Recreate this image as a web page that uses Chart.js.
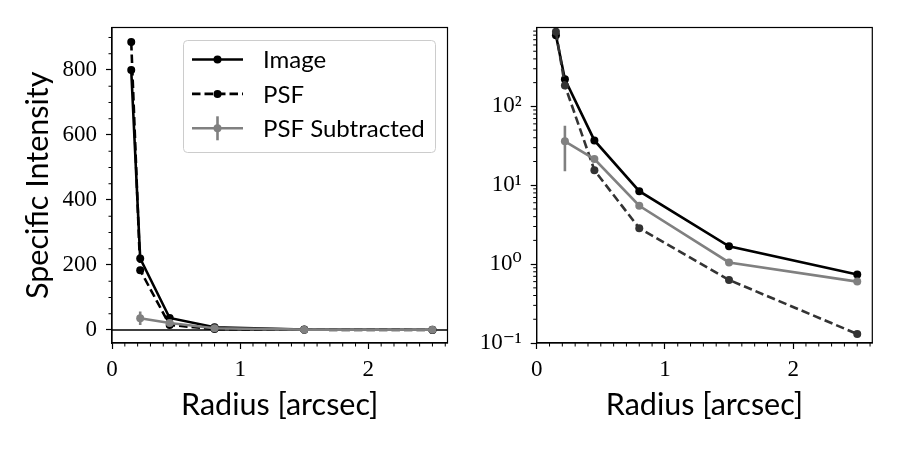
<!DOCTYPE html>
<html>
<head>
<meta charset="utf-8">
<script src="https://cdn.jsdelivr.net/npm/chart.js@4"></script>
<style>
body { margin: 0; background: #fff; }
#wrap { position: relative; width: 900px; height: 450px; }
#wrap canvas { position: absolute; top: 0; }
</style>
</head>
<body>
<div id="wrap">
  <canvas id="linPlot" width="480" height="450" style="left:0"></canvas>
  <canvas id="logPlot" width="420" height="450" style="left:480px"></canvas>
</div>
<script>
// radial profiles
var radius = [0.15, 0.22, 0.45, 0.8, 1.5, 2.5];
var imageProfile = [800, 220, 37, 8.4, 1.68, 0.74];
var psfProfile = [886, 184, 15.5, 2.85, 0.63, 0.13];
var subProfile = [null, 36, 21.5, 5.5, 1.05, 0.6];
var subError = [null, 21, 1.5, 0.4, 0.08, 0.05];
var seriesNames = ['Image', 'PSF', 'PSF Subtracted'];

var xTickValues = [0, 1, 2];
var linTickValues = [0, 200, 400, 600, 800];
var logTickValues = [0.1, 1, 10, 100];
var logTickLabels = ['10⁻¹', '10⁰', '10¹', '10²'];

var serifFont = { family: "'Liberation Serif', 'DejaVu Serif', serif", size: 23 };
var sansFont = { family: "Lato, 'Noto Sans', sans-serif", size: 30.5 };
var LW = 2.6;

function points(ys) {
  return radius.map(function (r, i) { return { x: r, y: ys[i] }; });
}

function fixedTicks(values) {
  return function (scale) {
    scale.ticks = values.map(function (v) { return { value: v }; });
  };
}

function makeDatasets(psfColor) {
  return [{
    label: seriesNames[0], data: points(imageProfile),
    borderColor: '#000', backgroundColor: '#000', borderWidth: LW,
    pointRadius: 4, pointBorderWidth: 0, order: 2
  }, {
    label: seriesNames[1], data: points(psfProfile),
    borderColor: psfColor, backgroundColor: psfColor, borderWidth: LW, borderDash: [8.5, 4],
    pointRadius: 4, pointBorderWidth: 0, order: 1
  }, {
    label: seriesNames[2], data: points(subProfile), errors: subError,
    borderColor: '#808080', backgroundColor: '#808080', borderWidth: LW,
    pointRadius: 4, pointBorderWidth: 0, order: 0
  }];
}

// box round the plot area
var frame = {
  id: 'frame',
  afterDraw: function (chart) {
    var a = chart.chartArea, ctx = chart.ctx;
    ctx.save();
    ctx.strokeStyle = '#000';
    ctx.lineWidth = 1.2;
    ctx.strokeRect(a.left, a.top, a.right - a.left, a.bottom - a.top);
    ctx.restore();
  }
};

var minorTicks = {
  id: 'minorTicks',
  afterDraw: function (chart, args, opts) {
    var ctx = chart.ctx, a = chart.chartArea;
    var xs = chart.scales.x, ys = chart.scales.y;
    ctx.save();
    ctx.strokeStyle = '#000';
    ctx.lineWidth = 1;
    ctx.beginPath();
    (opts.x || []).forEach(function (v) {
      var px = xs.getPixelForValue(v);
      ctx.moveTo(px, a.bottom); ctx.lineTo(px, a.bottom + 3.5);
    });
    (opts.y || []).forEach(function (v) {
      var py = ys.getPixelForValue(v);
      if (py < a.top - 0.5 || py > a.bottom + 0.5) return;
      ctx.moveTo(a.left, py); ctx.lineTo(a.left - 3.5, py);
    });
    ctx.stroke();
    ctx.restore();
  }
};

var zeroLine = {
  id: 'zeroLine',
  beforeDatasetsDraw: function (chart, args, opts) {
    if (!opts.show) return;
    var a = chart.chartArea, ctx = chart.ctx;
    var py = chart.scales.y.getPixelForValue(0);
    ctx.save();
    ctx.strokeStyle = '#000';
    ctx.lineWidth = 1.6;
    ctx.beginPath();
    ctx.moveTo(a.left, py); ctx.lineTo(a.right, py);
    ctx.stroke();
    ctx.restore();
  }
};

var errorBars = {
  id: 'errorBars',
  beforeDatasetsDraw: function (chart) {
    var ctx = chart.ctx, ys = chart.scales.y, xs = chart.scales.x;
    chart.data.datasets.forEach(function (ds) {
      if (!ds.errors) return;
      ctx.save();
      ctx.strokeStyle = ds.borderColor;
      ctx.lineWidth = LW;
      ctx.beginPath();
      ds.data.forEach(function (p, i) {
        var e = ds.errors[i];
        if (p.y == null || e == null) return;
        var lo = p.y - e;
        if (lo <= 0 && ys.type === 'logarithmic') lo = ys.min;
        var px = xs.getPixelForValue(p.x);
        ctx.moveTo(px, ys.getPixelForValue(lo));
        ctx.lineTo(px, ys.getPixelForValue(p.y + e));
      });
      ctx.stroke();
      ctx.restore();
    });
  }
};

var inLegend = {
  id: 'inLegend',
  afterDraw: function (chart, args, opts) {
    if (!opts.show) return;
    var ctx = chart.ctx, a = chart.chartArea;
    var w = 252, h = 112;
    var left = a.right - 12.5 - w, top = a.top + 12.5;
    ctx.save();
    ctx.fillStyle = 'rgba(255,255,255,0.8)';
    ctx.strokeStyle = '#cccccc';
    ctx.lineWidth = 1;
    ctx.beginPath();
    ctx.roundRect(left + 0.5, top + 0.5, w, h, 4);
    ctx.fill();
    ctx.stroke();
    ctx.font = "24px Lato, 'Noto Sans', sans-serif";
    ctx.textBaseline = 'middle';
    chart.data.datasets.forEach(function (ds, i) {
      var cy = top + 19.5 + i * 34.4;
      var x0 = left + 9, x1 = left + 60, xm = (x0 + x1) / 2;
      ctx.strokeStyle = ds.borderColor;
      ctx.fillStyle = ds.borderColor;
      ctx.lineWidth = LW;
      ctx.setLineDash(ds.borderDash || []);
      ctx.beginPath();
      ctx.moveTo(x0, cy); ctx.lineTo(x1, cy);
      ctx.stroke();
      ctx.setLineDash([]);
      if (ds.errors) {
        ctx.beginPath();
        ctx.moveTo(xm, cy - 12); ctx.lineTo(xm, cy + 12);
        ctx.stroke();
      }
      ctx.beginPath();
      ctx.arc(xm, cy, 4, 0, Math.PI * 2);
      ctx.fill();
      ctx.fillStyle = '#000';
      ctx.fillText(ds.label, left + 80, cy + 1);
    });
    ctx.restore();
  }
};

function xMinorValues() {
  var v = [];
  for (var i = 1; i <= 26; i++) if (i % 10 !== 0) v.push(i / 10);
  return v;
}
function linMinorValues() {
  var v = [];
  for (var y = 50; y <= 900; y += 50) if (y % 200 !== 0) v.push(y);
  return v;
}
function logMinorValues() {
  var v = [];
  for (var e = -1; e <= 2; e++) for (var k = 2; k <= 9; k++) v.push(k * Math.pow(10, e));
  return v;
}

function xAxis() {
  return {
    type: 'linear', min: 0, max: 2.6175,
    afterBuildTicks: fixedTicks(xTickValues),
    afterFit: function (s) { s.height = 107; },
    grid: { drawOnChartArea: false, drawTicks: true, tickLength: 6, tickWidth: 1.2, tickColor: '#000' },
    border: { display: true, color: '#000', width: 1.2 },
    ticks: { color: '#000', font: serifFont, padding: 7, maxRotation: 0, autoSkip: false },
    title: { display: true, text: 'Radius [arcsec]', color: '#000', font: sansFont, padding: { top: 0, bottom: 27 } }
  };
}

function yGrid() {
  return { drawOnChartArea: false, drawTicks: true, tickLength: 6, tickWidth: 1.2, tickColor: '#000' };
}

new Chart(document.getElementById('linPlot'), {
  type: 'scatter',
  data: { datasets: makeDatasets('#000') },
  options: {
    responsive: false, animation: false, events: [],
    showLine: true,
    layout: { padding: { left: 0, right: 32.5, top: 27.5, bottom: 0 } },
    scales: {
      x: xAxis(),
      y: {
        type: 'linear', min: -40, max: 930.7,
        afterBuildTicks: fixedTicks(linTickValues),
        afterFit: function (s) { s.width = 112; },
        grid: yGrid(),
        border: { display: true, color: '#000', width: 1.2 },
        ticks: { color: '#000', font: serifFont, padding: 9, autoSkip: false },
        title: { display: true, text: 'Specific Intensity', color: '#000', font: sansFont, padding: { top: 20, bottom: 0 } }
      }
    },
    plugins: {
      legend: { display: false }, tooltip: { enabled: false },
      minorTicks: { x: xMinorValues(), y: linMinorValues() },
      zeroLine: { show: true },
      inLegend: { show: true }
    }
  },
  plugins: [frame, minorTicks, zeroLine, errorBars, inLegend]
});

new Chart(document.getElementById('logPlot'), {
  type: 'scatter',
  data: { datasets: makeDatasets('#333333') },
  options: {
    responsive: false, animation: false, events: [],
    showLine: true,
    layout: { padding: { left: 0, right: 27.7, top: 27.5, bottom: 0 } },
    scales: {
      x: xAxis(),
      y: {
        type: 'logarithmic', min: 0.1, max: 1000,
        afterBuildTicks: fixedTicks(logTickValues),
        afterFit: function (s) { s.width = 56.7; },
        grid: yGrid(),
        border: { display: true, color: '#000', width: 1.2 },
        ticks: {
          color: '#000', font: serifFont, padding: 9, autoSkip: false,
          callback: function (v) { return logTickLabels[logTickValues.indexOf(v)]; }
        }
      }
    },
    plugins: {
      legend: { display: false }, tooltip: { enabled: false },
      minorTicks: { x: xMinorValues(), y: logMinorValues() },
      zeroLine: { show: false },
      inLegend: { show: false }
    }
  },
  plugins: [frame, minorTicks, zeroLine, errorBars, inLegend]
});
</script>
</body>
</html>
